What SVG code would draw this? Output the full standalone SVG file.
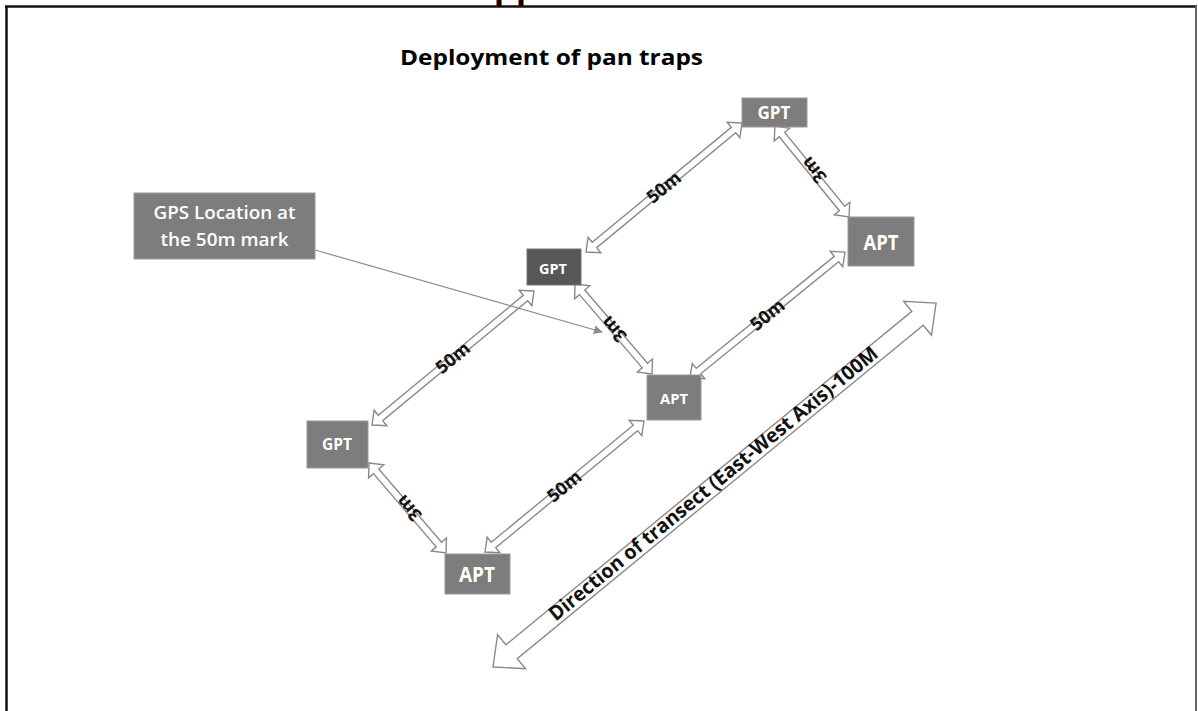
<svg xmlns="http://www.w3.org/2000/svg" width="1198" height="711" viewBox="0 0 1198 711">
<defs>
<style>
.node{fill:#7d7d7d;stroke:#9a9a9a;stroke-width:1}
.dark{fill:#575757;stroke:#777;stroke-width:1}
.nt{font-family:"Open Sans","Liberation Sans",Arial,sans-serif;font-weight:bold;fill:#fff;text-anchor:middle}
.arr{fill:#fff;stroke:#8a8a8a;stroke-width:1.4;stroke-linejoin:miter}
.lbl{font-family:"Open Sans","Liberation Sans",Arial,sans-serif;font-weight:bold;fill:#111;text-anchor:middle;font-size:18px}
</style>
<marker id="ah" viewBox="0 0 10 10" refX="9" refY="5" markerWidth="9" markerHeight="9" markerUnits="userSpaceOnUse" orient="auto">
<path d="M0,0 L10,5 L0,10 z" fill="#8c8c8c"/>
</marker>
</defs>
<rect width="1198" height="711" fill="#fff"/>
<text x="516" y="-2" font-family="Liberation Sans,Arial,sans-serif" font-weight="bold" font-size="36" fill="#000" text-anchor="middle">pp</text>
<g id="frame">
<line x1="5" y1="6.5" x2="1197" y2="6.5" stroke="#111" stroke-width="2.5"/>
<line x1="6.5" y1="6" x2="6.5" y2="711" stroke="#111" stroke-width="2.5"/>
<line x1="1196" y1="6" x2="1196" y2="711" stroke="#666" stroke-width="2"/>
</g>
<text id="title" x="551.5" y="65" font-family="Open Sans,Liberation Sans,Arial,sans-serif" font-weight="bold" font-size="21" fill="#000" text-anchor="middle" textLength="303" lengthAdjust="spacingAndGlyphs">Deployment of pan traps</text>
<g id="connectors">
<polygon class="arr" transform="translate(586,252) rotate(-39.6)" points="0,0 11,-10 11,-3.5 191.4,-3.5 191.4,-10 202.4,0 191.4,10 191.4,3.5 11,3.5 11,10"/>
<polygon class="arr" transform="translate(775,126) rotate(50.9)" points="0,0 11,-10 11,-3.5 106.3,-3.5 106.3,-10 117.3,0 106.3,10 106.3,3.5 11,3.5 11,10"/>
<polygon class="arr" transform="translate(575,284) rotate(49.4)" points="0,0 11,-10 11,-3.5 107.4,-3.5 107.4,-10 118.4,0 107.4,10 107.4,3.5 11,3.5 11,10"/>
<polygon class="arr" transform="translate(690,378) rotate(-39.1)" points="0,0 11,-10 11,-3.5 188.7,-3.5 188.7,-10 199.7,0 188.7,10 188.7,3.5 11,3.5 11,10"/>
<polygon class="arr" transform="translate(372,425) rotate(-39.6)" points="0,0 11,-10 11,-3.5 199.2,-3.5 199.2,-10 210.2,0 199.2,10 199.2,3.5 11,3.5 11,10"/>
<polygon class="arr" transform="translate(369,463) rotate(49.4)" points="0,0 11,-10 11,-3.5 107.4,-3.5 107.4,-10 118.4,0 107.4,10 107.4,3.5 11,3.5 11,10"/>
<polygon class="arr" transform="translate(485,552) rotate(-39.5)" points="0,0 11,-10 11,-3.5 195,-3.5 195,-10 206,0 195,10 195,3.5 11,3.5 11,10"/>
<polygon class="arr" transform="translate(493,667) rotate(-39.4)" points="0,0 24,-22 24,-9 549.4,-9 549.4,-22 573.4,0 549.4,22 549.4,9 24,9 24,22"/>
<line x1="315" y1="250" x2="602" y2="332" stroke="#8c8c8c" stroke-width="1.2" marker-end="url(#ah)"/>
<text class="lbl" transform="translate(664,187.5) rotate(-39.6)" x="0" y="6">50m</text>
<text class="lbl" transform="translate(814,170) rotate(230.9)" x="0" y="6">3m</text>
<text class="lbl" transform="translate(614,329) rotate(229.4)" x="0" y="6">3m</text>
<text class="lbl" transform="translate(767.5,315) rotate(-39.1)" x="0" y="6">50m</text>
<text class="lbl" transform="translate(453,358) rotate(-39.6)" x="0" y="6">50m</text>
<text class="lbl" transform="translate(409,508) rotate(229.4)" x="0" y="6">3m</text>
<text class="lbl" transform="translate(564.5,486.5) rotate(-39.5)" x="0" y="6">50m</text>
<text class="lbl" transform="translate(714.5,485) rotate(-39.4)" x="0" y="5" textLength="419" lengthAdjust="spacingAndGlyphs" style="font-size:20px">Direction of transect (East-West Axis)-100M</text>
</g>
<g id="gps-label">
<rect class="node" x="134" y="193" width="181" height="66"/>
<text x="224.5" y="219" font-family="Open Sans,Liberation Sans,Arial,sans-serif" font-weight="600" font-size="18" fill="#fff" text-anchor="middle" textLength="142" lengthAdjust="spacingAndGlyphs">GPS Location at</text>
<text x="224.5" y="246" font-family="Open Sans,Liberation Sans,Arial,sans-serif" font-weight="600" font-size="18" fill="#fff" text-anchor="middle" textLength="128" lengthAdjust="spacingAndGlyphs">the 50m mark</text>
</g>
<g id="gpt-top">
<rect class="node" x="742" y="98" width="65" height="29"/>
<text class="nt" x="774" y="119" font-size="18" textLength="33" lengthAdjust="spacingAndGlyphs">GPT</text>
</g>
<g id="apt-right">
<rect class="node" x="848" y="217" width="66" height="49"/>
<text class="nt" x="881" y="250" font-size="22" textLength="35" lengthAdjust="spacingAndGlyphs">APT</text>
</g>
<g id="gpt-mid">
<rect class="dark" x="527" y="249" width="54" height="36"/>
<text class="nt" x="553" y="274" font-size="14" textLength="28" lengthAdjust="spacingAndGlyphs">GPT</text>
</g>
<g id="apt-mid">
<rect class="node" x="647" y="375" width="54" height="45"/>
<text class="nt" x="674" y="404" font-size="15" textLength="28" lengthAdjust="spacingAndGlyphs">APT</text>
</g>
<g id="gpt-left">
<rect class="node" x="307" y="421" width="61" height="47"/>
<text class="nt" x="337" y="450" font-size="16" textLength="30" lengthAdjust="spacingAndGlyphs">GPT</text>
</g>
<g id="apt-bottom">
<rect class="node" x="445" y="554" width="65" height="40"/>
<text class="nt" x="477" y="582" font-size="21" textLength="36" lengthAdjust="spacingAndGlyphs">APT</text>
</g>
</svg>
